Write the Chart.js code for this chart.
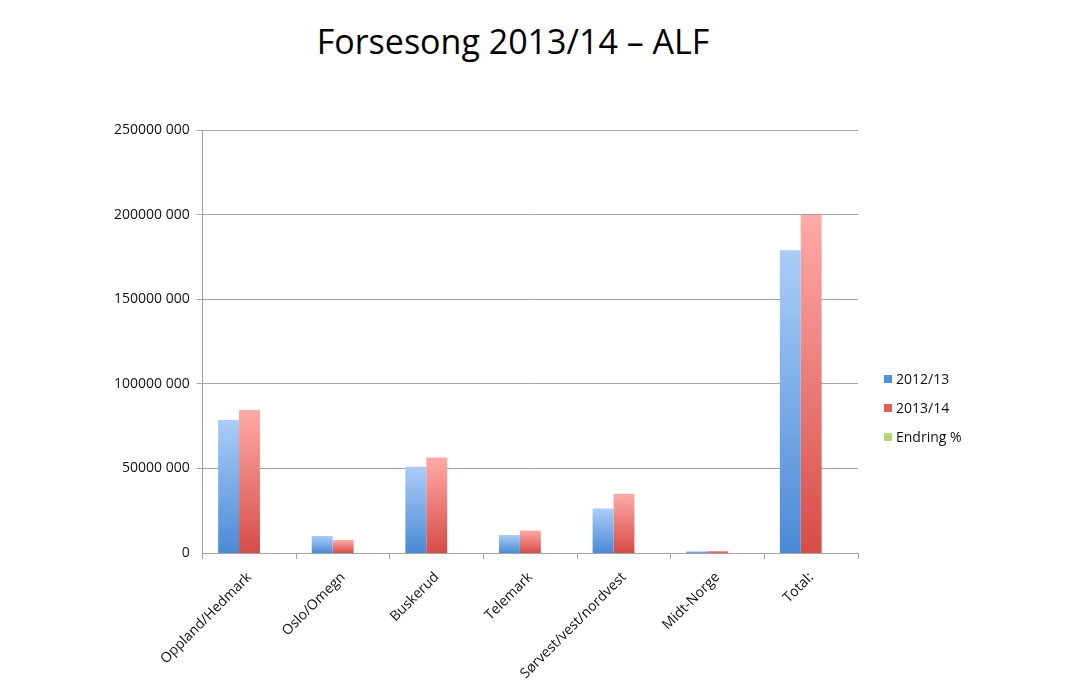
<!DOCTYPE html>
<html>
<head>
<meta charset="utf-8">
<script src="https://cdn.jsdelivr.net/npm/chart.js@4/dist/chart.umd.min.js"></script>
<style>
  html, body { margin: 0; padding: 0; background: #fff; }
  #wrap { position: relative; width: 1080px; height: 696px; font-family: "Open Sans", sans-serif; }
  #title { position: absolute; left: 0; width: 1026px; top: 18px; text-align: center; font-size: 34px; line-height: 46px; color: #000; }
  #legend { position: absolute; left: 884px; top: 368px; font-size: 14px; color: #111; }
  .item { height: 29px; line-height: 22px; white-space: nowrap; }
  .swatch { display: inline-block; width: 8px; height: 8px; margin-right: 4px; vertical-align: 1px; }
  canvas { position: absolute; left: 0; top: 0; }
</style>
</head>
<body>
<div id="wrap">
  <div id="title">Forsesong 2013/14 – ALF</div>
  <canvas id="chart" width="1080" height="696"></canvas>
  <div id="legend"></div>
</div>
<script>
// Regions along the x axis
const categories = ['Oppland/Hedmark', 'Oslo/Omegn', 'Buskerud', 'Telemark', 'Sørvest/vest/nordvest', 'Midt-Norge', 'Total:'];

// Series values (NOK)
const season1213 = [78600000, 10100000, 51000000, 10700000, 26300000, 1000000, 178900000];
const season1314 = [84500000, 7700000, 56500000, 13400000, 35100000, 1200000, 199800000];
// Change in percent - far too small to show on this scale
const endringPct = [7.5, -23.8, 10.8, 25.2, 33.5, 20.0, 11.7];

const seriesNames = ['2012/13', '2013/14', 'Endring %'];
const yTickLabels = ['0', '50000 000', '100000 000', '150000 000', '200000 000', '250000 000'];

const GRID = '#a3a3a3';

// Vertical gradient per bar: light at the top, darker at the base.
function barGradient(topColor, baseColor) {
  return (ctx) => {
    const chart = ctx.chart;
    const y = chart.scales && chart.scales.y;
    if (!chart.chartArea || !y || ctx.type !== 'data') return baseColor;
    const yTop = y.getPixelForValue(ctx.raw);
    const yBase = y.getPixelForValue(0);
    if (!isFinite(yTop) || Math.abs(yTop - yBase) < 1) return baseColor;
    const g = chart.ctx.createLinearGradient(0, yTop, 0, yBase);
    g.addColorStop(0, topColor);
    g.addColorStop(1, baseColor);
    return g;
  };
}

const swatchColors = ['#4f8fdc', '#e0605b', '#b5d77a'];

// Build the legend next to the plot.
const legend = document.getElementById('legend');
seriesNames.forEach((name, i) => {
  const div = document.createElement('div');
  div.className = 'item';
  div.innerHTML = `<span class="swatch" style="background:${swatchColors[i]}"></span>${name}`;
  legend.appendChild(div);
});

new Chart(document.getElementById('chart').getContext('2d'), {
  type: 'bar',
  data: {
    labels: categories,
    datasets: [
      { label: seriesNames[0], data: season1213, backgroundColor: barGradient('#abcdf7', '#4a8ad6') },
      { label: seriesNames[1], data: season1314, backgroundColor: barGradient('#ffaaa7', '#d64c47') },
      { label: seriesNames[2], data: endringPct, backgroundColor: '#b5d77a', inflateAmount: 0 },
    ]
  },
  options: {
    responsive: false,
    animation: false,
    layout: { padding: { left: 107, right: 222, top: 130, bottom: 4 } },
    datasets: { bar: { categoryPercentage: 0.67, barPercentage: 1.0 } },
    scales: {
      x: {
        z: 1, // axis line drawn over the bars' bases
        grid: { offset: true, drawOnChartArea: false, color: GRID, tickLength: 6 },
        border: { color: GRID },
        ticks: {
          maxRotation: 45, minRotation: 45, padding: 10,
          color: '#111', font: { family: 'Open Sans', size: 14 }
        }
      },
      y: {
        min: 0, max: 250000000,
        // zero line comes from the x axis border instead
        grid: { color: GRID, tickLength: 6, lineWidth: (c) => (c.tick && c.tick.value === 0 ? 0 : 1) },
        border: { color: GRID },
        ticks: {
          stepSize: 50000000, padding: 7,
          color: '#111', font: { family: 'Open Sans', size: 14 },
          callback: (v, i) => yTickLabels[i]
        }
      }
    },
    plugins: {
      legend: { display: false },
      tooltip: { enabled: false }
    }
  }
});
</script>
</body>
</html>
